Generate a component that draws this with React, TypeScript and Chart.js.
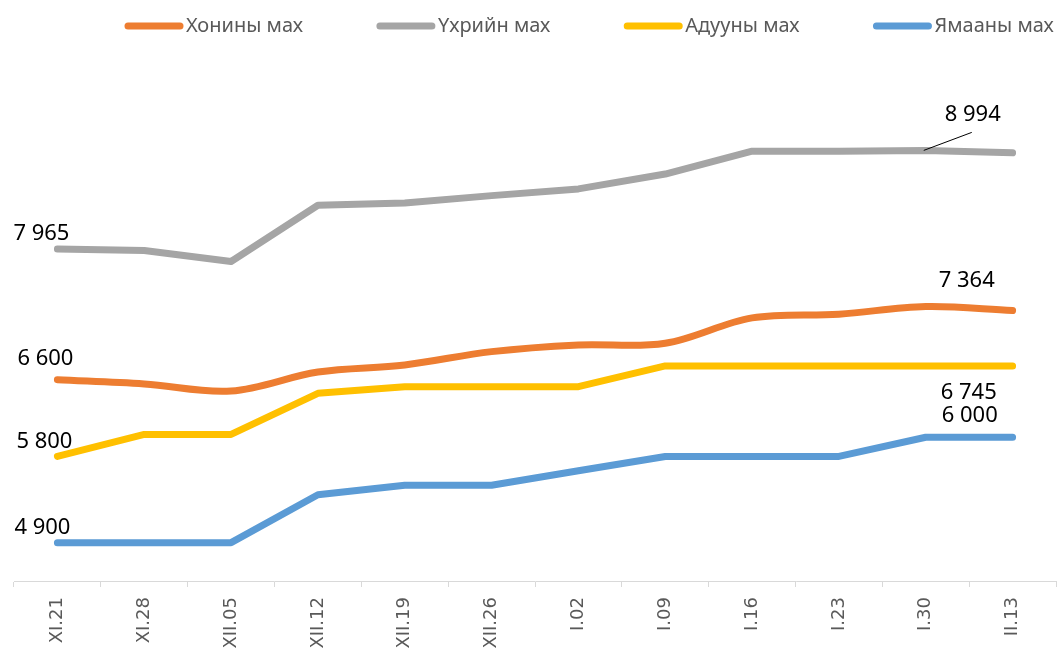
import React, { useEffect, useRef } from "react";
import { Chart, registerables } from "chart.js";

Chart.register(...registerables);

const categories = ["XI.21", "XI.28", "XII.05", "XII.12", "XII.19", "XII.26", "I.02", "I.09", "I.16", "I.23", "I.30", "II.13"];
const seriesNames = ["Хонины мах", "Үхрийн мах", "Адууны мах", "Ямааны мах"];
const sheep = [6600, 6556, 6483, 6681, 6755, 6894, 6964, 6982, 7246, 7285, 7364, 7323];
const beef = [7965, 7950, 7835, 8421, 8446, 8522, 8592, 8747, 8986, 8986, 8994, 8969];
const horse = [5800, 6030, 6030, 6459, 6528, 6528, 6528, 6745, 6745, 6745, 6745, 6745];
const goat = [4900, 4900, 4900, 5400, 5500, 5500, 5650, 5800, 5800, 5800, 6000, 6000];
const colors = ["#ED7D31", "#A5A5A5", "#FFC000", "#5B9BD5"];
const tensions = [0.35, 0, 0, 0];

// data labels: [datasetIndex, pointIndex, text, dx, dy, leader]
const labels: [number, number, string, number, number, boolean][] = [
  [1, 0, "7 965", -16, -15, false],
  [0, 0, "6 600", -12, -21, false],
  [2, 0, "5 800", -13, -15, false],
  [3, 0, "4 900", -15, -15, false],
  [1, 10, "8 994", 47, -36, true],
  [0, 10, "7 364", 41, -26, false],
  [2, 10, "6 745", 43, 27, false],
  [3, 10, "6 000", 44, -22, false],
];

const FONT = "'Noto Sans', 'Open Sans', sans-serif";

const labelPlugin = {
  id: "valueLabels",
  afterDatasetsDraw(chart: any) {
    const ctx = chart.ctx;
    ctx.save();
    ctx.font = `22px ${FONT}`;
    ctx.fillStyle = "#000000";
    ctx.textAlign = "center";
    ctx.textBaseline = "middle";
    for (const [di, pi, text, dx, dy, leader] of labels) {
      const pt = chart.getDatasetMeta(di).data[pi];
      if (!pt) continue;
      const x = pt.x + dx;
      const y = pt.y + dy;
      ctx.fillText(text, x, y);
      if (leader) {
        ctx.beginPath();
        ctx.strokeStyle = "#000000";
        ctx.lineWidth = 1;
        ctx.moveTo(pt.x - 2, pt.y);
        ctx.lineTo(x - 1, y + 18);
        ctx.stroke();
      }
    }
    ctx.restore();
  },
};

const legendPlugin = {
  id: "customLegend",
  afterDraw(chart: any) {
    const ctx = chart.ctx;
    ctx.save();
    ctx.font = `20px ${FONT}`;
    ctx.textBaseline = "middle";
    ctx.textAlign = "left";
    let x = 125;
    const y = 26;
    seriesNames.forEach((name, i) => {
      ctx.beginPath();
      ctx.strokeStyle = colors[i];
      ctx.lineWidth = 7;
      ctx.lineCap = "round";
      ctx.moveTo(x + 3, y);
      ctx.lineTo(x + 55, y);
      ctx.stroke();
      ctx.fillStyle = "#595959";
      ctx.fillText(name, x + 61, y);
      const w = ctx.measureText(name).width;
      x = x + 61 + w + 74;
    });
    ctx.restore();
  },
};

export default function App() {
  const ref = useRef<HTMLCanvasElement | null>(null);
  useEffect(() => {
    if (!ref.current) return;
    const series = [sheep, beef, horse, goat];
    const chart = new Chart(ref.current, {
      type: "line",
      data: {
        labels: categories,
        datasets: series.map((d, i) => ({
          label: seriesNames[i],
          data: d,
          borderColor: colors[i],
          backgroundColor: colors[i],
          borderWidth: 7,
          pointRadius: 0,
          pointHoverRadius: 0,
          tension: tensions[i],
          borderCapStyle: "round" as const,
          borderJoinStyle: "round" as const,
          fill: false,
        })),
      },
      options: {
        animation: false,
        responsive: true,
        maintainAspectRatio: false,
        layout: { padding: { top: 54, left: 14, right: 8, bottom: 0 } },
        plugins: { legend: { display: false }, tooltip: { enabled: false } },
        scales: {
          x: {
            offset: true,
            grid: { offset: true, drawOnChartArea: false, drawTicks: true, tickLength: 6, color: "#d9d9d9", lineWidth: 1 },
            border: { color: "#d9d9d9", width: 1 },
            ticks: {
              minRotation: 90,
              maxRotation: 90,
              autoSkip: false,
              padding: 10,
              color: "#595959",
              font: { family: "'DejaVu Sans', sans-serif", size: 18 },
            },
            afterFit: (s: any) => {
              s.height = 67;
            },
          },
          y: { display: false, min: 4500, max: 10000 },
        },
      },
      plugins: [labelPlugin, legendPlugin],
    });
    return () => chart.destroy();
  }, []);
  return (
    <div style={{ position: "fixed", left: 0, top: 0, width: 1064, height: 648, background: "#fff" }}>
      <canvas ref={ref} />
    </div>
  );
}
